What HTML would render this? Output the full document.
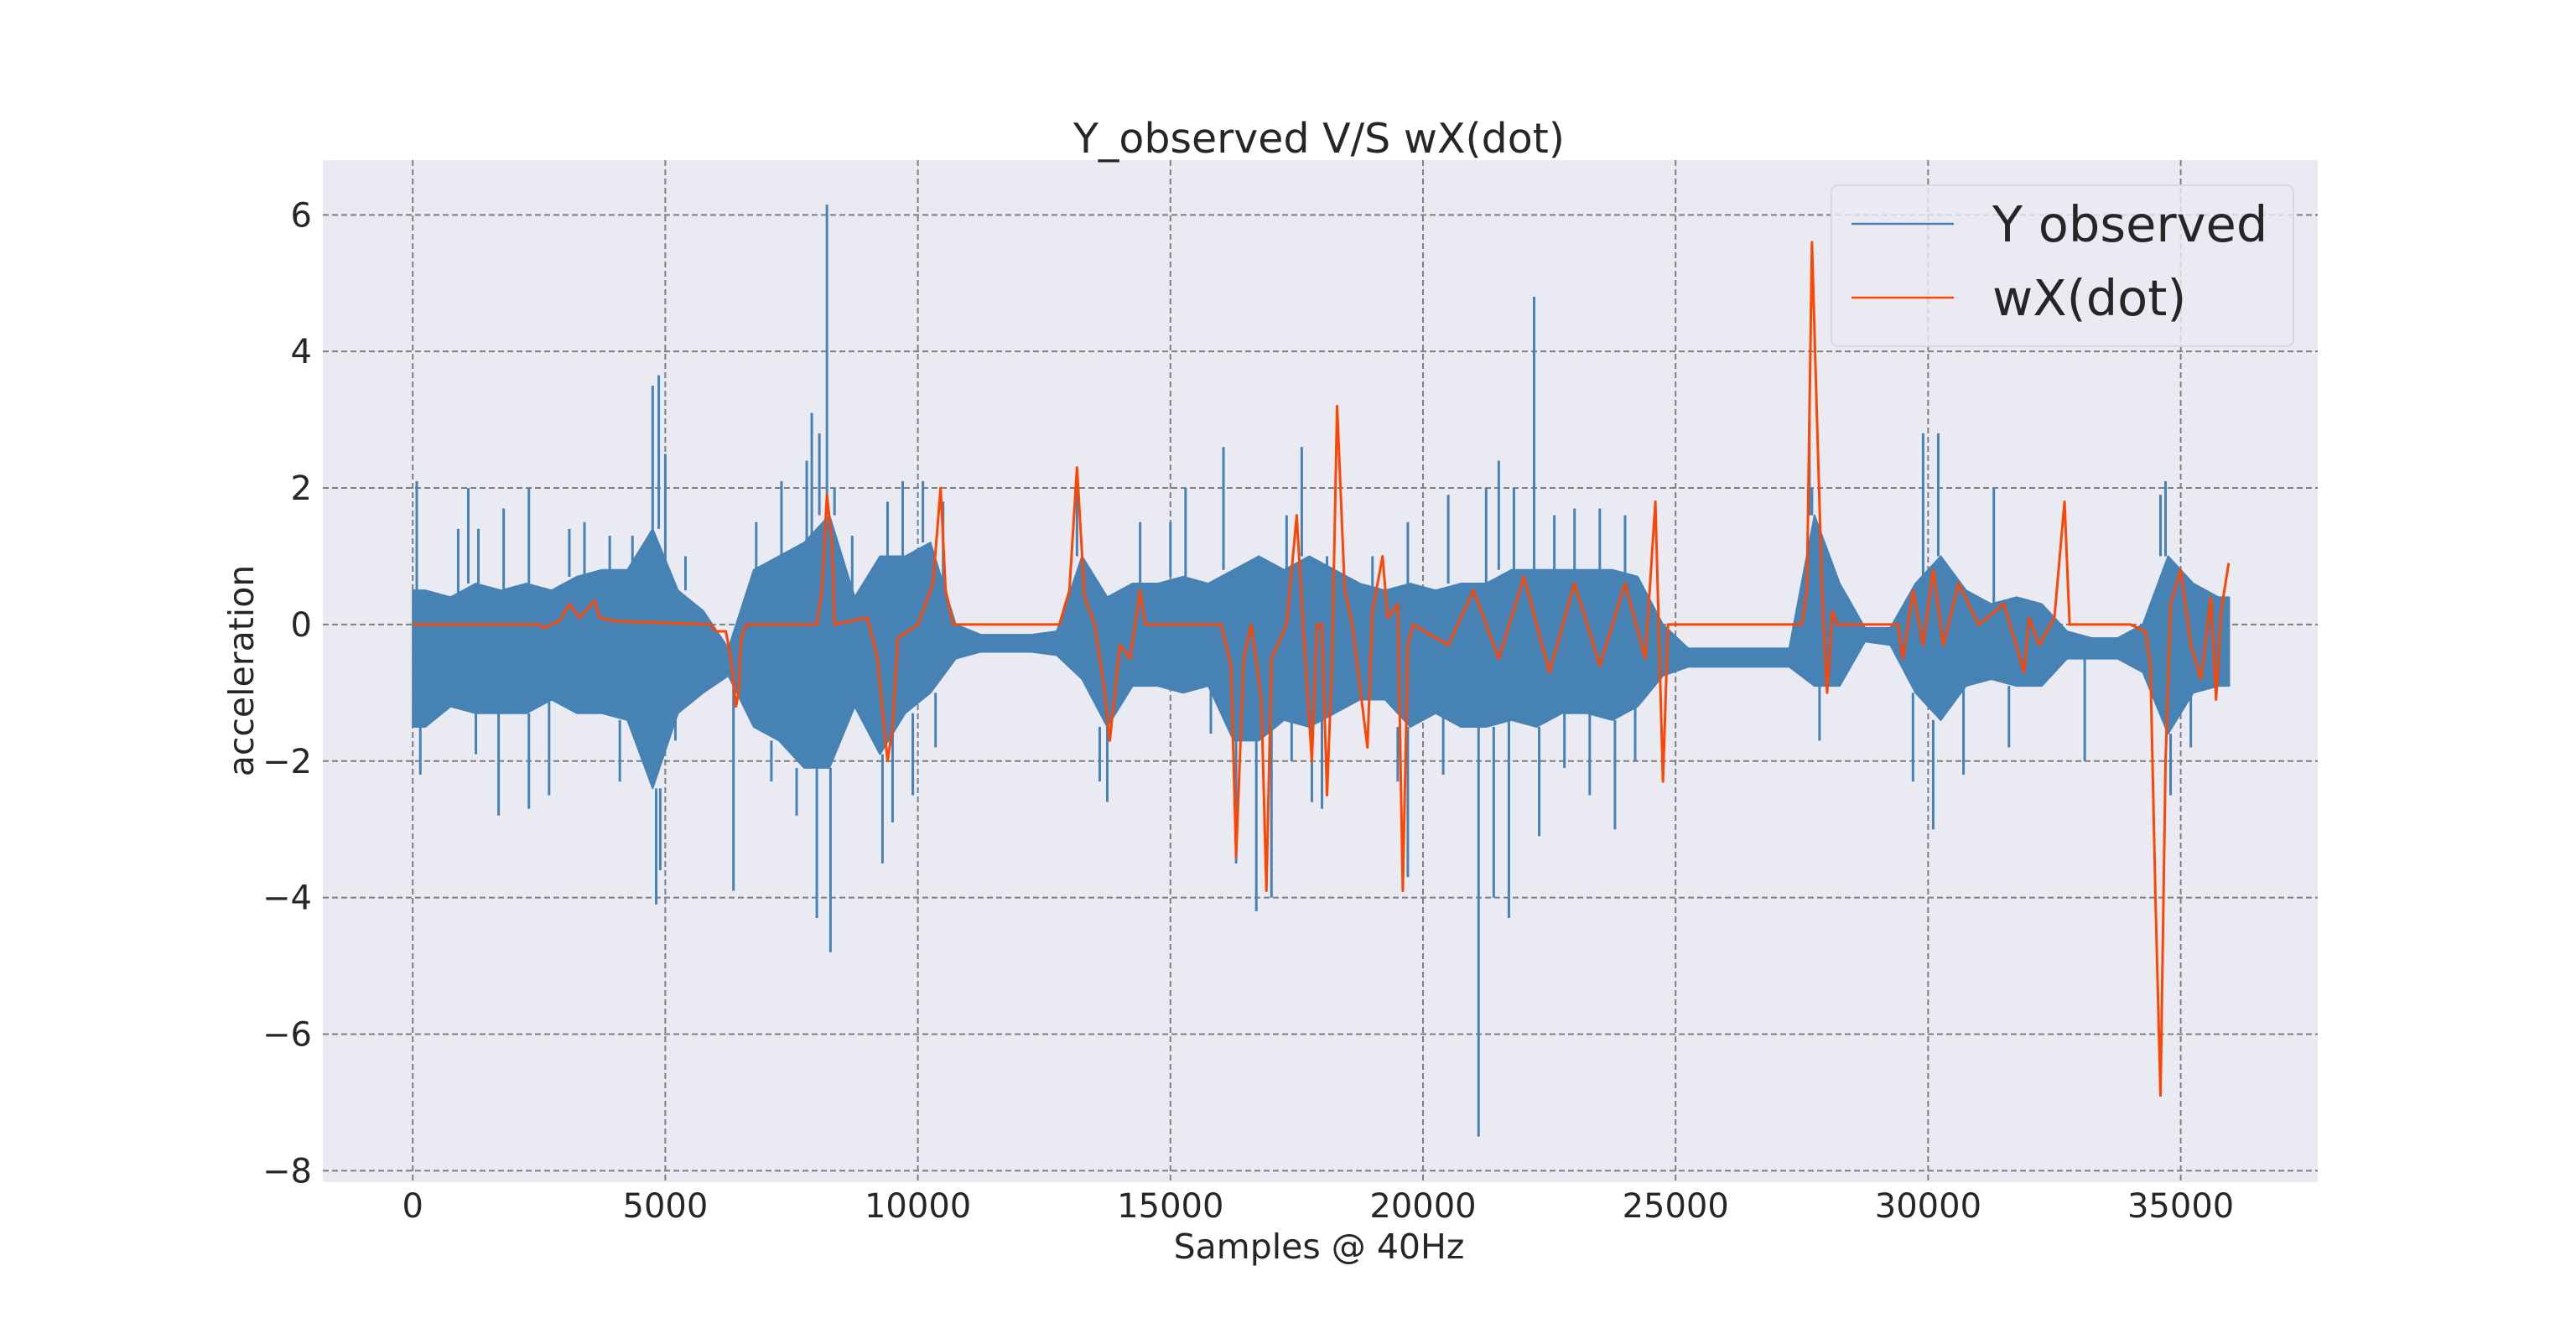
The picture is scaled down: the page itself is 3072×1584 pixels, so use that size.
<!DOCTYPE html>
<html><head><meta charset="utf-8"><style>
html,body{margin:0;padding:0;background:#fff;}
svg{display:block;font-family:"DejaVu Sans","Liberation Sans",sans-serif;}
</style></head><body>
<svg id="chart" width="3072" height="1584" viewBox="0 0 3072 1584" xmlns="http://www.w3.org/2000/svg">
<rect x="385" y="191" width="2379" height="1219" fill="#eaeaf2"/>
<g id="grid"></g>
<g id="series"></g>
<g id="ticks"></g>
<text x="1573" y="182" font-size="49" text-anchor="middle" fill="#262626">Y_observed V/S wX(dot)</text>
<text x="1573" y="1501" font-size="41" text-anchor="middle" fill="#262626">Samples @ 40Hz</text>
<text x="302" y="800" font-size="41" text-anchor="middle" fill="#262626" transform="rotate(-90 302 800)">acceleration</text>
<g>
<rect x="2184" y="221" width="551" height="192" rx="8" fill="#eaeaf2" fill-opacity="0.8" stroke="#d8d8e0" stroke-width="2"/>
<line x1="2208" y1="267" x2="2330" y2="267" stroke="#4682b4" stroke-width="2.5"/>
<text x="2376" y="288" font-size="59" fill="#262626">Y observed</text>
<line x1="2208" y1="355" x2="2330" y2="355" stroke="#ff4500" stroke-width="2.5"/>
<text x="2376" y="376" font-size="59" fill="#262626">wX(dot)</text>
</g>
</svg>
<script>
const xTicks=[0,5000,10000,15000,20000,25000,30000,35000];
const yTicks=[-8,-6,-4,-2,0,2,4,6];
const binSize=500;
const blueHi=[0.5,0.4,0.6,0.5,0.6,0.5,0.7,0.8,0.8,1.4,0.5,0.2,-0.35,0.8,1.0,1.2,1.6,0.4,1.0,1.0,1.2,0.0,-0.15,-0.15,-0.15,-0.1,1.0,0.4,0.6,0.6,0.7,0.6,0.8,1.0,0.8,1.0,0.8,0.6,0.5,0.6,0.5,0.6,0.6,0.8,0.8,0.8,0.8,0.8,0.7,0.0,-0.35,-0.35,-0.35,-0.35,-0.35,1.6,0.6,-0.05,-0.05,0.6,1.0,0.5,0.3,0.4,0.3,-0.1,-0.2,-0.2,0.0,1.0,0.6,0.4];
const blueLo=[-1.5,-1.2,-1.3,-1.3,-1.3,-1.1,-1.3,-1.3,-1.4,-2.4,-1.3,-1.0,-0.75,-1.5,-1.7,-2.1,-2.1,-1.2,-1.9,-1.3,-1.0,-0.5,-0.4,-0.4,-0.4,-0.45,-0.8,-1.5,-0.9,-0.9,-1.0,-0.9,-1.7,-1.7,-1.4,-1.5,-1.3,-1.1,-1.1,-1.5,-1.3,-1.5,-1.5,-1.4,-1.5,-1.3,-1.3,-1.4,-1.2,-0.75,-0.62,-0.62,-0.62,-0.62,-0.62,-0.9,-0.9,-0.25,-0.3,-1.0,-1.4,-0.9,-0.8,-0.9,-0.9,-0.5,-0.5,-0.5,-0.7,-1.6,-1.0,-0.9];
const spikeSamples=[80,150,900,1100,1250,1300,1700,1800,2300,2300,2700,3100,3400,3900,4100,4350,4750,4820,4870,4900,5000,5200,5400,6350,6800,7100,7300,7600,7800,7900,8000,8050,8200,8270,8350,8700,9300,9400,9500,9700,9900,10100,10350,10500,13150,13600,13750,14400,15000,15300,15800,16050,16300,16700,17000,17300,17400,17600,17800,18000,18100,19000,19500,19700,19700,20400,20500,21100,21250,21400,21500,21700,21800,22200,22300,22600,22800,23000,23300,23500,23800,24000,24200,27650,27700,27850,29700,29900,30100,30200,30700,31300,31600,33100,34600,34700,34800,35200];
const spikeValues=[2.1,-2.2,1.4,2.0,-1.9,1.4,-2.8,1.7,2.0,-2.7,-2.5,1.4,1.5,1.3,-2.3,1.3,3.5,-4.1,3.65,-3.6,2.5,-1.7,1.0,-3.9,1.5,-2.3,2.1,-2.8,2.4,3.1,-4.3,2.8,6.15,-4.8,2.0,1.3,-3.5,1.8,-2.9,2.1,-2.5,2.1,-1.8,1.8,2.2,-2.3,-2.6,1.5,1.5,2.0,-1.6,2.6,-3.5,-4.2,-4.0,1.6,-2.0,2.6,-2.6,-2.7,1.0,1.0,-2.3,-3.7,1.5,-2.2,1.9,-7.5,2.0,-4.0,2.4,-4.3,2.0,4.8,-3.1,1.6,-2.1,1.7,-2.5,1.7,-3.0,1.6,-2.0,3.0,2.0,-1.7,-2.3,2.8,-3.0,2.8,-2.2,2.0,-1.8,-2.0,1.9,2.1,-2.5,-1.8];
const redSamples=[0,2500,2600,2900,3100,3300,3600,3700,4000,5900,6000,6200,6300,6400,6450,6500,6600,8000,8100,8200,8300,8350,9000,9200,9400,9500,9600,10000,10300,10450,10550,10700,12800,13000,13150,13300,13500,13700,13800,14000,14200,14400,14500,16000,16200,16300,16450,16600,16800,16900,17000,17300,17500,17600,17800,17900,18000,18100,18200,18300,18450,18600,18900,19000,19200,19300,19500,19600,19700,19800,20500,21000,21500,22000,22500,23000,23500,24000,24400,24600,24750,24850,27500,27600,27700,27800,27900,28000,28100,28200,29400,29500,29700,29900,30100,30300,30600,31000,31500,31900,32000,32200,32500,32700,32800,34000,34300,34400,34500,34600,34700,34800,35000,35200,35400,35600,35700,35800,35950];
const redValues=[0,0,-0.05,0.05,0.3,0.1,0.35,0.1,0.05,0,-0.1,-0.1,-0.5,-1.2,-1.0,-0.2,0,0,0.5,1.9,1.2,0,0.1,-0.5,-2.0,-1.5,-0.2,0,0.6,2.0,0.5,0,0,0.5,2.3,0.4,0,-1.0,-1.7,-0.3,-0.5,0.5,0,0,-0.6,-3.4,-0.5,0,-1.1,-3.9,-0.5,0,1.6,0.3,-2.0,0,0,-2.5,-0.5,3.2,0.5,0,-1.8,0.2,1.0,0.1,0.3,-3.9,-0.3,0,-0.3,0.5,-0.5,0.7,-0.7,0.6,-0.6,0.6,-0.5,1.8,-2.3,0,0,0.5,5.6,3.0,0.5,-1.0,0.2,0,0,-0.5,0.5,-0.3,0.8,-0.3,0.6,0,0.3,-0.7,0.1,-0.3,0.1,1.8,0,0,-0.1,-0.6,-4.0,-6.9,-2.0,0.3,0.8,-0.3,-0.8,0.4,-1.1,0.2,0.9];

const NS='http://www.w3.org/2000/svg';
const X0=492.2,XS=301.2/5000,Y0=744.9,YS=162.86/2;
function sx(s){return X0+s*XS;}
function sy(v){return Y0-v*YS;}
function mk(tag,attrs,parent){const e=document.createElementNS(NS,tag);for(const k in attrs)e.setAttribute(k,attrs[k]);parent.appendChild(e);return e;}
const gridG=document.getElementById('grid'),ticksG=document.getElementById('ticks'),serG=document.getElementById('series');
xTicks.forEach(t=>{
  const l=mk('line',{x1:sx(t),x2:sx(t),y1:191,y2:1410,stroke:'#7f7f7f','stroke-width':2,'stroke-dasharray':'7,4'},gridG);
  
  
  const tx=mk('text',{x:sx(t),y:1452,'font-size':40,'text-anchor':'middle',fill:'#262626'},ticksG);
  tx.textContent=String(t);
  
  
});
yTicks.forEach(t=>{
  const l=mk('line',{x1:385,x2:2764,y1:sy(t),y2:sy(t),stroke:'#7f7f7f','stroke-width':2,'stroke-dasharray':'7,4'},gridG);
  
  
  const tx=mk('text',{x:372,y:sy(t)+14,'font-size':40,'text-anchor':'end',fill:'#262626'},ticksG);
  tx.textContent=t<0?'\u2212'+Math.abs(t):String(t);
  
  
});
const upperPts=[],lowerPts=[];
const lastS=35960;
upperPts.push(sx(0)+','+sy(blueHi[0]));
lowerPts.unshift(sx(0)+','+sy(blueLo[0]));
for(let i=0;i<blueHi.length;i++){
  const c=Math.min(lastS,i*binSize+binSize/2);
  upperPts.push(sx(c)+','+sy(blueHi[i]));
  lowerPts.unshift(sx(c)+','+sy(blueLo[i]));
}
upperPts.push(sx(lastS)+','+sy(blueHi[blueHi.length-1]));
lowerPts.unshift(sx(lastS)+','+sy(blueLo[blueLo.length-1]));
const band=mk('polygon',{points:upperPts.concat(lowerPts).join(' '),fill:'#4682b4',stroke:'#4682b4','stroke-width':2,'stroke-linejoin':'round'},serG);


spikeSamples.forEach((s,i)=>{
  const v=spikeValues[i];const bi=Math.min(blueHi.length-1,Math.floor(s/binSize));
  const base=v>0?blueHi[bi]:blueLo[bi];
  const l=mk('line',{x1:sx(s),x2:sx(s),y1:sy(base),y2:sy(v),stroke:'#4682b4','stroke-width':3},serG);
  
  
});
const pts=redSamples.map((s,i)=>sx(s)+','+sy(redValues[i])).join(' ');
const rl=mk('polyline',{points:pts,fill:'none',stroke:'#ff4500','stroke-width':3,'stroke-linejoin':'round'},serG);


</script>
</body></html>
